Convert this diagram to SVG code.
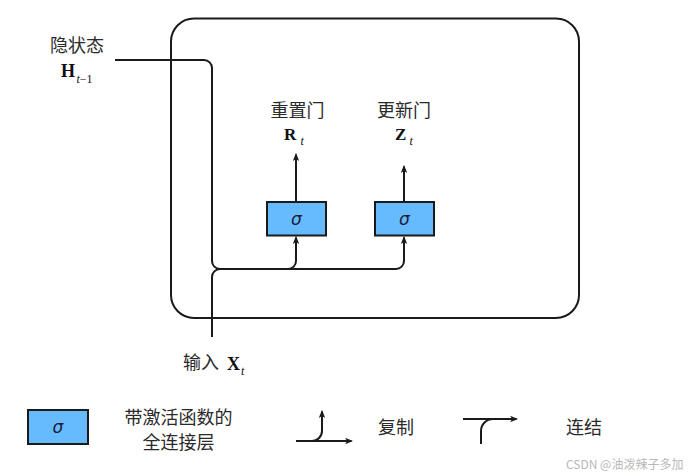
<svg xmlns="http://www.w3.org/2000/svg" width="696" height="476" viewBox="0 0 696 476">
<style>
.ln{fill:none;stroke:#1a1a1a;stroke-width:2}
.box{fill:#66bbff;stroke:#1a1a1a;stroke-width:2}
.cjk{font-family:"Noto Sans CJK SC","Noto Sans",sans-serif;font-size:18px;fill:#2a2a2a}
.sig{font-family:"DejaVu Sans",sans-serif;font-style:italic;font-size:17px;fill:#1b1b3a}
.math{font-family:"Liberation Serif",serif;font-weight:bold;fill:#111}
.sub{font-family:"Liberation Serif",serif;font-style:italic;font-size:12px;fill:#111}
.wm{font-family:"Noto Sans CJK SC","Noto Sans",sans-serif;font-size:12px;fill:#b8b8b8}
</style>
<defs>
<marker id="ah" viewBox="0 0 10 10" refX="8" refY="5" markerWidth="8" markerHeight="8" markerUnits="userSpaceOnUse" orient="auto">
<path d="M0,1 L10,5 L0,9 L2.5,5 z" fill="#1a1a1a"/>
</marker>
</defs>
<rect width="696" height="476" fill="#fff"/>

<g id="frame">
<rect x="171" y="18.5" width="408" height="299.5" rx="23" ry="23" class="ln"/>
</g>

<g id="connectors">
<path class="ln" d="M115,60 H204 A8,8 0 0 1 212,68 V261 A8,8 0 0 0 220,269 H288 A8,8 0 0 0 296,261 V237.5" marker-end="url(#ah)"/>
<path class="ln" d="M212,337 V277 A8,8 0 0 1 220,269 H396 A8,8 0 0 0 404,261 V237.5" marker-end="url(#ah)"/>
<path class="ln" d="M296,202 V154.5" marker-end="url(#ah)"/>
<path class="ln" d="M404,202 V166.5" marker-end="url(#ah)"/>
</g>

<g id="gate_r">
<rect x="267" y="202" width="59" height="33.5" class="box"/>
<text x="296.5" y="225" text-anchor="middle" class="sig">σ</text>
</g>
<g id="gate_z">
<rect x="375" y="202" width="59" height="33.5" class="box"/>
<text x="404.5" y="225" text-anchor="middle" class="sig">σ</text>
</g>

<g id="label_r">
<text x="297.5" y="116.5" text-anchor="middle" class="cjk">重置门</text>
<text x="284" y="139.5" class="math" font-size="17">R</text>
<text x="300.5" y="145" class="sub" font-size="10">t</text>
</g>
<g id="label_z">
<text x="404" y="116.5" text-anchor="middle" class="cjk">更新门</text>
<text x="395" y="139.5" class="math" font-size="17">Z</text>
<text x="409.5" y="145" class="sub" font-size="10">t</text>
</g>

<g id="label_h">
<text x="77" y="51.5" text-anchor="middle" class="cjk">隐状态</text>
<text x="61" y="77" class="math" font-size="18">H</text>
<text x="76.5" y="82.5" class="sub">t<tspan font-style="normal">−1</tspan></text>
</g>

<g id="label_x">
<text x="183" y="368.5" class="cjk">输入</text>
<text x="227" y="369.5" class="math" font-size="18">X</text>
<text x="241" y="375" class="sub" font-size="10">t</text>
</g>

<g id="legend_fc">
<rect x="28" y="410" width="60" height="34" class="box"/>
<text x="58" y="433" text-anchor="middle" class="sig">σ</text>
<text x="178.5" y="423.5" text-anchor="middle" class="cjk">带激活函数的</text>
<text x="178.5" y="448.5" text-anchor="middle" class="cjk">全连接层</text>
</g>

<g id="legend_copy">
<path class="ln" d="M296,441 H351.5" marker-end="url(#ah)"/>
<path class="ln" d="M312,441 A10,10 0 0 0 322,431 V411.5" marker-end="url(#ah)"/>
<text x="378" y="433.5" class="cjk">复制</text>
</g>

<g id="legend_concat">
<path class="ln" d="M463,419 H516.5" marker-end="url(#ah)"/>
<path class="ln" d="M481,444 V431 A12,12 0 0 1 493,419"/>
<text x="566" y="433.5" class="cjk">连结</text>
</g>

<text x="566" y="469" class="wm">CSDN @油泼辣子多加</text>
</svg>
